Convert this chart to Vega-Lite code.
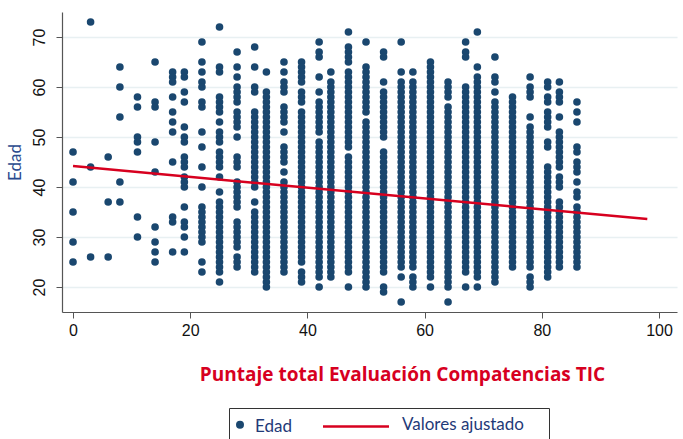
{
"$schema": "https://vega.github.io/schema/vega-lite/v6.json",
"width": 615, "height": 300,
"autosize": {"type": "none"},
"padding": {"left": 62, "top": 12, "right": 6, "bottom": 127},
"background": "white",
"config": {"view": {"stroke": null},
 "legend": {"orient": "none", "legendX": 167, "legendY": 396, "direction": "horizontal",
  "titleOrient": "right", "titleFontSize": 1, "titlePadding": 18,
  "strokeColor": "#333", "fillColor": "white", "padding": 7, "columnPadding": 26,
  "labelFont": "Lato", "labelFontSize": 17, "labelColor": "#1f3a78", "labelBaseline": "alphabetic",
  "symbolSize": 64}},
"datasets": {
"fit": [{"p":0,"edad":44.2},{"p":98,"edad":33.6}],
"pts": [
{"p":0,"edad":47},{"p":0,"edad":41},{"p":0,"edad":35},{"p":0,"edad":29},{"p":0,"edad":25},
{"p":3,"edad":73},{"p":3,"edad":44},{"p":3,"edad":26},
{"p":6,"edad":46},{"p":6,"edad":37},{"p":6,"edad":26},
{"p":8,"edad":64},{"p":8,"edad":60},{"p":8,"edad":54},{"p":8,"edad":41},{"p":8,"edad":37},
{"p":11,"edad":58},{"p":11,"edad":56},{"p":11,"edad":50},{"p":11,"edad":49},{"p":11,"edad":47},{"p":11,"edad":34},{"p":11,"edad":30},
{"p":14,"edad":65},{"p":14,"edad":57},{"p":14,"edad":56},{"p":14,"edad":49},{"p":14,"edad":43},{"p":14,"edad":32},{"p":14,"edad":29},{"p":14,"edad":27},{"p":14,"edad":25},
{"p":17,"edad":63},{"p":17,"edad":62},{"p":17,"edad":61},{"p":17,"edad":58},{"p":17,"edad":55},{"p":17,"edad":53},{"p":17,"edad":51},{"p":17,"edad":45},{"p":17,"edad":34},{"p":17,"edad":33},{"p":17,"edad":27},
{"p":19,"edad":63},{"p":19,"edad":62},{"p":19,"edad":59},{"p":19,"edad":57},{"p":19,"edad":52},{"p":19,"edad":50},{"p":19,"edad":49},{"p":19,"edad":46},{"p":19,"edad":45},{"p":19,"edad":44},{"p":19,"edad":42},{"p":19,"edad":41},{"p":19,"edad":40},{"p":19,"edad":36},{"p":19,"edad":33},{"p":19,"edad":32},{"p":19,"edad":30},{"p":19,"edad":27},
{"p":22,"edad":69},{"p":22,"edad":65},{"p":22,"edad":63},{"p":22,"edad":61},{"p":22,"edad":60},{"p":22,"edad":57},{"p":22,"edad":56},{"p":22,"edad":51},{"p":22,"edad":48},{"p":22,"edad":44},{"p":22,"edad":40},{"p":22,"edad":36},{"p":22,"edad":35},{"p":22,"edad":34},{"p":22,"edad":33},{"p":22,"edad":32},{"p":22,"edad":31},{"p":22,"edad":30},{"p":22,"edad":29},{"p":22,"edad":25},{"p":22,"edad":23},
{"p":25,"edad":72},{"p":25,"edad":64},{"p":25,"edad":63},{"p":25,"edad":58},{"p":25,"edad":57},{"p":25,"edad":56},{"p":25,"edad":55},{"p":25,"edad":53},{"p":25,"edad":51},{"p":25,"edad":50},{"p":25,"edad":49},{"p":25,"edad":47},{"p":25,"edad":46},{"p":25,"edad":45},{"p":25,"edad":44},{"p":25,"edad":42},{"p":25,"edad":39},{"p":25,"edad":37},{"p":25,"edad":36},{"p":25,"edad":35},{"p":25,"edad":34},{"p":25,"edad":33},{"p":25,"edad":32},{"p":25,"edad":31},{"p":25,"edad":30},{"p":25,"edad":29},{"p":25,"edad":28},{"p":25,"edad":27},{"p":25,"edad":26},{"p":25,"edad":25},{"p":25,"edad":24},{"p":25,"edad":23},{"p":25,"edad":21},
{"p":28,"edad":67},{"p":28,"edad":64},{"p":28,"edad":62},{"p":28,"edad":60},{"p":28,"edad":59},{"p":28,"edad":58},{"p":28,"edad":57},{"p":28,"edad":55},{"p":28,"edad":54},{"p":28,"edad":53},{"p":28,"edad":52},{"p":28,"edad":50},{"p":28,"edad":46},{"p":28,"edad":45},{"p":28,"edad":44},{"p":28,"edad":41},{"p":28,"edad":40},{"p":28,"edad":39},{"p":28,"edad":38},{"p":28,"edad":37},{"p":28,"edad":36},{"p":28,"edad":33},{"p":28,"edad":32},{"p":28,"edad":31},{"p":28,"edad":30},{"p":28,"edad":29},{"p":28,"edad":28},{"p":28,"edad":26},{"p":28,"edad":25},{"p":28,"edad":24},
{"p":31,"edad":68},{"p":31,"edad":64},{"p":31,"edad":60},{"p":31,"edad":59},{"p":31,"edad":55},{"p":31,"edad":54},{"p":31,"edad":53},{"p":31,"edad":52},{"p":31,"edad":51},{"p":31,"edad":50},{"p":31,"edad":49},{"p":31,"edad":48},{"p":31,"edad":47},{"p":31,"edad":46},{"p":31,"edad":45},{"p":31,"edad":44},{"p":31,"edad":43},{"p":31,"edad":42},{"p":31,"edad":41},{"p":31,"edad":40},{"p":31,"edad":37},{"p":31,"edad":35},{"p":31,"edad":34},{"p":31,"edad":33},{"p":31,"edad":32},{"p":31,"edad":31},{"p":31,"edad":30},{"p":31,"edad":29},{"p":31,"edad":28},{"p":31,"edad":27},{"p":31,"edad":26},{"p":31,"edad":25},{"p":31,"edad":24},{"p":31,"edad":23},
{"p":33,"edad":63},{"p":33,"edad":59},{"p":33,"edad":58},{"p":33,"edad":57},{"p":33,"edad":56},{"p":33,"edad":55},{"p":33,"edad":54},{"p":33,"edad":53},{"p":33,"edad":52},{"p":33,"edad":51},{"p":33,"edad":50},{"p":33,"edad":49},{"p":33,"edad":48},{"p":33,"edad":47},{"p":33,"edad":46},{"p":33,"edad":45},{"p":33,"edad":44},{"p":33,"edad":43},{"p":33,"edad":42},{"p":33,"edad":41},{"p":33,"edad":40},{"p":33,"edad":39},{"p":33,"edad":38},{"p":33,"edad":37},{"p":33,"edad":36},{"p":33,"edad":35},{"p":33,"edad":34},{"p":33,"edad":33},{"p":33,"edad":32},{"p":33,"edad":31},{"p":33,"edad":30},{"p":33,"edad":29},{"p":33,"edad":28},{"p":33,"edad":27},{"p":33,"edad":26},{"p":33,"edad":25},{"p":33,"edad":24},{"p":33,"edad":23},{"p":33,"edad":22},{"p":33,"edad":21},{"p":33,"edad":20},
{"p":36,"edad":65},{"p":36,"edad":63},{"p":36,"edad":61},{"p":36,"edad":60},{"p":36,"edad":59},{"p":36,"edad":56},{"p":36,"edad":55},{"p":36,"edad":54},{"p":36,"edad":53},{"p":36,"edad":51},{"p":36,"edad":48},{"p":36,"edad":47},{"p":36,"edad":46},{"p":36,"edad":45},{"p":36,"edad":43},{"p":36,"edad":41},{"p":36,"edad":40},{"p":36,"edad":39},{"p":36,"edad":38},{"p":36,"edad":37},{"p":36,"edad":36},{"p":36,"edad":35},{"p":36,"edad":34},{"p":36,"edad":33},{"p":36,"edad":32},{"p":36,"edad":31},{"p":36,"edad":30},{"p":36,"edad":29},{"p":36,"edad":28},{"p":36,"edad":27},{"p":36,"edad":26},{"p":36,"edad":25},{"p":36,"edad":24},{"p":36,"edad":23},
{"p":39,"edad":65},{"p":39,"edad":64},{"p":39,"edad":63},{"p":39,"edad":62},{"p":39,"edad":61},{"p":39,"edad":59},{"p":39,"edad":58},{"p":39,"edad":57},{"p":39,"edad":55},{"p":39,"edad":54},{"p":39,"edad":53},{"p":39,"edad":52},{"p":39,"edad":51},{"p":39,"edad":50},{"p":39,"edad":49},{"p":39,"edad":48},{"p":39,"edad":47},{"p":39,"edad":46},{"p":39,"edad":45},{"p":39,"edad":44},{"p":39,"edad":43},{"p":39,"edad":42},{"p":39,"edad":41},{"p":39,"edad":40},{"p":39,"edad":39},{"p":39,"edad":38},{"p":39,"edad":37},{"p":39,"edad":36},{"p":39,"edad":35},{"p":39,"edad":34},{"p":39,"edad":33},{"p":39,"edad":32},{"p":39,"edad":31},{"p":39,"edad":30},{"p":39,"edad":29},{"p":39,"edad":28},{"p":39,"edad":27},{"p":39,"edad":26},{"p":39,"edad":25},{"p":39,"edad":23},{"p":39,"edad":22},{"p":39,"edad":21},
{"p":42,"edad":69},{"p":42,"edad":67},{"p":42,"edad":66},{"p":42,"edad":62},{"p":42,"edad":59},{"p":42,"edad":57},{"p":42,"edad":56},{"p":42,"edad":55},{"p":42,"edad":54},{"p":42,"edad":53},{"p":42,"edad":52},{"p":42,"edad":51},{"p":42,"edad":49},{"p":42,"edad":48},{"p":42,"edad":47},{"p":42,"edad":46},{"p":42,"edad":45},{"p":42,"edad":44},{"p":42,"edad":43},{"p":42,"edad":42},{"p":42,"edad":41},{"p":42,"edad":40},{"p":42,"edad":39},{"p":42,"edad":38},{"p":42,"edad":37},{"p":42,"edad":36},{"p":42,"edad":35},{"p":42,"edad":34},{"p":42,"edad":33},{"p":42,"edad":32},{"p":42,"edad":31},{"p":42,"edad":30},{"p":42,"edad":29},{"p":42,"edad":28},{"p":42,"edad":27},{"p":42,"edad":26},{"p":42,"edad":25},{"p":42,"edad":24},{"p":42,"edad":23},{"p":42,"edad":22},{"p":42,"edad":20},
{"p":44,"edad":63},{"p":44,"edad":61},{"p":44,"edad":60},{"p":44,"edad":59},{"p":44,"edad":58},{"p":44,"edad":57},{"p":44,"edad":56},{"p":44,"edad":55},{"p":44,"edad":54},{"p":44,"edad":53},{"p":44,"edad":52},{"p":44,"edad":51},{"p":44,"edad":50},{"p":44,"edad":49},{"p":44,"edad":48},{"p":44,"edad":47},{"p":44,"edad":46},{"p":44,"edad":45},{"p":44,"edad":44},{"p":44,"edad":43},{"p":44,"edad":42},{"p":44,"edad":41},{"p":44,"edad":40},{"p":44,"edad":39},{"p":44,"edad":38},{"p":44,"edad":37},{"p":44,"edad":36},{"p":44,"edad":35},{"p":44,"edad":34},{"p":44,"edad":33},{"p":44,"edad":32},{"p":44,"edad":31},{"p":44,"edad":30},{"p":44,"edad":29},{"p":44,"edad":28},{"p":44,"edad":27},{"p":44,"edad":26},{"p":44,"edad":25},{"p":44,"edad":24},{"p":44,"edad":23},{"p":44,"edad":22},
{"p":47,"edad":71},{"p":47,"edad":68},{"p":47,"edad":67},{"p":47,"edad":66},{"p":47,"edad":65},{"p":47,"edad":63},{"p":47,"edad":62},{"p":47,"edad":61},{"p":47,"edad":60},{"p":47,"edad":59},{"p":47,"edad":58},{"p":47,"edad":57},{"p":47,"edad":56},{"p":47,"edad":55},{"p":47,"edad":54},{"p":47,"edad":53},{"p":47,"edad":52},{"p":47,"edad":51},{"p":47,"edad":50},{"p":47,"edad":49},{"p":47,"edad":48},{"p":47,"edad":46},{"p":47,"edad":45},{"p":47,"edad":44},{"p":47,"edad":43},{"p":47,"edad":42},{"p":47,"edad":41},{"p":47,"edad":40},{"p":47,"edad":39},{"p":47,"edad":38},{"p":47,"edad":37},{"p":47,"edad":36},{"p":47,"edad":35},{"p":47,"edad":34},{"p":47,"edad":33},{"p":47,"edad":32},{"p":47,"edad":31},{"p":47,"edad":30},{"p":47,"edad":29},{"p":47,"edad":28},{"p":47,"edad":27},{"p":47,"edad":26},{"p":47,"edad":25},{"p":47,"edad":24},{"p":47,"edad":23},{"p":47,"edad":20},
{"p":50,"edad":69},{"p":50,"edad":64},{"p":50,"edad":63},{"p":50,"edad":62},{"p":50,"edad":61},{"p":50,"edad":60},{"p":50,"edad":59},{"p":50,"edad":58},{"p":50,"edad":57},{"p":50,"edad":56},{"p":50,"edad":55},{"p":50,"edad":53},{"p":50,"edad":52},{"p":50,"edad":51},{"p":50,"edad":50},{"p":50,"edad":49},{"p":50,"edad":48},{"p":50,"edad":47},{"p":50,"edad":46},{"p":50,"edad":45},{"p":50,"edad":44},{"p":50,"edad":43},{"p":50,"edad":42},{"p":50,"edad":41},{"p":50,"edad":40},{"p":50,"edad":39},{"p":50,"edad":38},{"p":50,"edad":37},{"p":50,"edad":36},{"p":50,"edad":35},{"p":50,"edad":34},{"p":50,"edad":33},{"p":50,"edad":32},{"p":50,"edad":31},{"p":50,"edad":30},{"p":50,"edad":29},{"p":50,"edad":28},{"p":50,"edad":27},{"p":50,"edad":26},{"p":50,"edad":25},{"p":50,"edad":24},{"p":50,"edad":23},{"p":50,"edad":22},{"p":50,"edad":21},{"p":50,"edad":20},
{"p":53,"edad":67},{"p":53,"edad":66},{"p":53,"edad":61},{"p":53,"edad":59},{"p":53,"edad":58},{"p":53,"edad":57},{"p":53,"edad":56},{"p":53,"edad":55},{"p":53,"edad":54},{"p":53,"edad":53},{"p":53,"edad":52},{"p":53,"edad":51},{"p":53,"edad":50},{"p":53,"edad":47},{"p":53,"edad":46},{"p":53,"edad":45},{"p":53,"edad":44},{"p":53,"edad":43},{"p":53,"edad":42},{"p":53,"edad":41},{"p":53,"edad":40},{"p":53,"edad":39},{"p":53,"edad":38},{"p":53,"edad":37},{"p":53,"edad":36},{"p":53,"edad":35},{"p":53,"edad":34},{"p":53,"edad":33},{"p":53,"edad":32},{"p":53,"edad":31},{"p":53,"edad":30},{"p":53,"edad":29},{"p":53,"edad":28},{"p":53,"edad":27},{"p":53,"edad":26},{"p":53,"edad":25},{"p":53,"edad":24},{"p":53,"edad":23},{"p":53,"edad":20},{"p":53,"edad":19},
{"p":56,"edad":69},{"p":56,"edad":63},{"p":56,"edad":61},{"p":56,"edad":60},{"p":56,"edad":59},{"p":56,"edad":58},{"p":56,"edad":57},{"p":56,"edad":56},{"p":56,"edad":55},{"p":56,"edad":54},{"p":56,"edad":53},{"p":56,"edad":52},{"p":56,"edad":51},{"p":56,"edad":50},{"p":56,"edad":49},{"p":56,"edad":48},{"p":56,"edad":47},{"p":56,"edad":46},{"p":56,"edad":45},{"p":56,"edad":44},{"p":56,"edad":43},{"p":56,"edad":42},{"p":56,"edad":41},{"p":56,"edad":40},{"p":56,"edad":39},{"p":56,"edad":38},{"p":56,"edad":37},{"p":56,"edad":36},{"p":56,"edad":35},{"p":56,"edad":34},{"p":56,"edad":33},{"p":56,"edad":32},{"p":56,"edad":31},{"p":56,"edad":30},{"p":56,"edad":29},{"p":56,"edad":28},{"p":56,"edad":27},{"p":56,"edad":26},{"p":56,"edad":25},{"p":56,"edad":24},{"p":56,"edad":22},{"p":56,"edad":17},
{"p":58,"edad":63},{"p":58,"edad":61},{"p":58,"edad":60},{"p":58,"edad":59},{"p":58,"edad":58},{"p":58,"edad":57},{"p":58,"edad":56},{"p":58,"edad":55},{"p":58,"edad":54},{"p":58,"edad":53},{"p":58,"edad":52},{"p":58,"edad":51},{"p":58,"edad":50},{"p":58,"edad":49},{"p":58,"edad":48},{"p":58,"edad":47},{"p":58,"edad":46},{"p":58,"edad":45},{"p":58,"edad":44},{"p":58,"edad":43},{"p":58,"edad":42},{"p":58,"edad":41},{"p":58,"edad":40},{"p":58,"edad":39},{"p":58,"edad":38},{"p":58,"edad":37},{"p":58,"edad":36},{"p":58,"edad":35},{"p":58,"edad":34},{"p":58,"edad":33},{"p":58,"edad":32},{"p":58,"edad":31},{"p":58,"edad":30},{"p":58,"edad":29},{"p":58,"edad":28},{"p":58,"edad":27},{"p":58,"edad":26},{"p":58,"edad":25},{"p":58,"edad":24},{"p":58,"edad":22},{"p":58,"edad":21},{"p":58,"edad":20},
{"p":61,"edad":65},{"p":61,"edad":64},{"p":61,"edad":63},{"p":61,"edad":62},{"p":61,"edad":61},{"p":61,"edad":60},{"p":61,"edad":59},{"p":61,"edad":58},{"p":61,"edad":57},{"p":61,"edad":56},{"p":61,"edad":55},{"p":61,"edad":54},{"p":61,"edad":53},{"p":61,"edad":52},{"p":61,"edad":51},{"p":61,"edad":50},{"p":61,"edad":49},{"p":61,"edad":48},{"p":61,"edad":47},{"p":61,"edad":46},{"p":61,"edad":45},{"p":61,"edad":44},{"p":61,"edad":43},{"p":61,"edad":42},{"p":61,"edad":41},{"p":61,"edad":40},{"p":61,"edad":39},{"p":61,"edad":38},{"p":61,"edad":37},{"p":61,"edad":36},{"p":61,"edad":35},{"p":61,"edad":34},{"p":61,"edad":33},{"p":61,"edad":32},{"p":61,"edad":31},{"p":61,"edad":30},{"p":61,"edad":29},{"p":61,"edad":28},{"p":61,"edad":27},{"p":61,"edad":26},{"p":61,"edad":25},{"p":61,"edad":24},{"p":61,"edad":23},{"p":61,"edad":22},{"p":61,"edad":20},
{"p":64,"edad":61},{"p":64,"edad":60},{"p":64,"edad":59},{"p":64,"edad":58},{"p":64,"edad":56},{"p":64,"edad":55},{"p":64,"edad":54},{"p":64,"edad":53},{"p":64,"edad":52},{"p":64,"edad":51},{"p":64,"edad":50},{"p":64,"edad":49},{"p":64,"edad":48},{"p":64,"edad":47},{"p":64,"edad":46},{"p":64,"edad":45},{"p":64,"edad":44},{"p":64,"edad":43},{"p":64,"edad":42},{"p":64,"edad":41},{"p":64,"edad":40},{"p":64,"edad":39},{"p":64,"edad":38},{"p":64,"edad":37},{"p":64,"edad":36},{"p":64,"edad":35},{"p":64,"edad":34},{"p":64,"edad":33},{"p":64,"edad":32},{"p":64,"edad":31},{"p":64,"edad":30},{"p":64,"edad":29},{"p":64,"edad":28},{"p":64,"edad":27},{"p":64,"edad":26},{"p":64,"edad":25},{"p":64,"edad":24},{"p":64,"edad":23},{"p":64,"edad":22},{"p":64,"edad":21},{"p":64,"edad":20},{"p":64,"edad":17},
{"p":67,"edad":69},{"p":67,"edad":67},{"p":67,"edad":66},{"p":67,"edad":60},{"p":67,"edad":59},{"p":67,"edad":58},{"p":67,"edad":57},{"p":67,"edad":56},{"p":67,"edad":55},{"p":67,"edad":54},{"p":67,"edad":53},{"p":67,"edad":52},{"p":67,"edad":51},{"p":67,"edad":50},{"p":67,"edad":49},{"p":67,"edad":48},{"p":67,"edad":47},{"p":67,"edad":46},{"p":67,"edad":45},{"p":67,"edad":44},{"p":67,"edad":43},{"p":67,"edad":42},{"p":67,"edad":41},{"p":67,"edad":40},{"p":67,"edad":39},{"p":67,"edad":38},{"p":67,"edad":37},{"p":67,"edad":36},{"p":67,"edad":35},{"p":67,"edad":34},{"p":67,"edad":33},{"p":67,"edad":32},{"p":67,"edad":31},{"p":67,"edad":30},{"p":67,"edad":29},{"p":67,"edad":28},{"p":67,"edad":27},{"p":67,"edad":26},{"p":67,"edad":25},{"p":67,"edad":24},{"p":67,"edad":23},{"p":67,"edad":20},
{"p":69,"edad":71},{"p":69,"edad":64},{"p":69,"edad":62},{"p":69,"edad":61},{"p":69,"edad":60},{"p":69,"edad":59},{"p":69,"edad":58},{"p":69,"edad":57},{"p":69,"edad":56},{"p":69,"edad":55},{"p":69,"edad":54},{"p":69,"edad":53},{"p":69,"edad":52},{"p":69,"edad":51},{"p":69,"edad":50},{"p":69,"edad":49},{"p":69,"edad":48},{"p":69,"edad":47},{"p":69,"edad":46},{"p":69,"edad":45},{"p":69,"edad":44},{"p":69,"edad":43},{"p":69,"edad":42},{"p":69,"edad":41},{"p":69,"edad":40},{"p":69,"edad":39},{"p":69,"edad":38},{"p":69,"edad":37},{"p":69,"edad":36},{"p":69,"edad":35},{"p":69,"edad":34},{"p":69,"edad":33},{"p":69,"edad":32},{"p":69,"edad":31},{"p":69,"edad":30},{"p":69,"edad":29},{"p":69,"edad":28},{"p":69,"edad":27},{"p":69,"edad":26},{"p":69,"edad":25},{"p":69,"edad":24},{"p":69,"edad":23},{"p":69,"edad":22},{"p":69,"edad":20},
{"p":72,"edad":66},{"p":72,"edad":62},{"p":72,"edad":61},{"p":72,"edad":59},{"p":72,"edad":57},{"p":72,"edad":56},{"p":72,"edad":55},{"p":72,"edad":54},{"p":72,"edad":53},{"p":72,"edad":52},{"p":72,"edad":51},{"p":72,"edad":50},{"p":72,"edad":49},{"p":72,"edad":48},{"p":72,"edad":47},{"p":72,"edad":46},{"p":72,"edad":45},{"p":72,"edad":44},{"p":72,"edad":43},{"p":72,"edad":42},{"p":72,"edad":41},{"p":72,"edad":40},{"p":72,"edad":39},{"p":72,"edad":38},{"p":72,"edad":37},{"p":72,"edad":36},{"p":72,"edad":35},{"p":72,"edad":34},{"p":72,"edad":33},{"p":72,"edad":32},{"p":72,"edad":31},{"p":72,"edad":30},{"p":72,"edad":29},{"p":72,"edad":28},{"p":72,"edad":27},{"p":72,"edad":26},{"p":72,"edad":25},{"p":72,"edad":24},{"p":72,"edad":23},{"p":72,"edad":22},{"p":72,"edad":21},
{"p":75,"edad":58},{"p":75,"edad":57},{"p":75,"edad":56},{"p":75,"edad":55},{"p":75,"edad":54},{"p":75,"edad":53},{"p":75,"edad":52},{"p":75,"edad":51},{"p":75,"edad":50},{"p":75,"edad":49},{"p":75,"edad":48},{"p":75,"edad":47},{"p":75,"edad":46},{"p":75,"edad":45},{"p":75,"edad":44},{"p":75,"edad":43},{"p":75,"edad":42},{"p":75,"edad":41},{"p":75,"edad":40},{"p":75,"edad":39},{"p":75,"edad":38},{"p":75,"edad":37},{"p":75,"edad":36},{"p":75,"edad":35},{"p":75,"edad":34},{"p":75,"edad":33},{"p":75,"edad":32},{"p":75,"edad":31},{"p":75,"edad":30},{"p":75,"edad":29},{"p":75,"edad":28},{"p":75,"edad":27},{"p":75,"edad":26},{"p":75,"edad":25},{"p":75,"edad":24},
{"p":78,"edad":62},{"p":78,"edad":60},{"p":78,"edad":59},{"p":78,"edad":58},{"p":78,"edad":54},{"p":78,"edad":52},{"p":78,"edad":51},{"p":78,"edad":50},{"p":78,"edad":49},{"p":78,"edad":48},{"p":78,"edad":47},{"p":78,"edad":46},{"p":78,"edad":45},{"p":78,"edad":44},{"p":78,"edad":43},{"p":78,"edad":42},{"p":78,"edad":41},{"p":78,"edad":40},{"p":78,"edad":39},{"p":78,"edad":38},{"p":78,"edad":37},{"p":78,"edad":36},{"p":78,"edad":35},{"p":78,"edad":34},{"p":78,"edad":33},{"p":78,"edad":32},{"p":78,"edad":31},{"p":78,"edad":30},{"p":78,"edad":29},{"p":78,"edad":28},{"p":78,"edad":27},{"p":78,"edad":26},{"p":78,"edad":25},{"p":78,"edad":24},{"p":78,"edad":22},{"p":78,"edad":21},{"p":78,"edad":20},
{"p":81,"edad":61},{"p":81,"edad":60},{"p":81,"edad":58},{"p":81,"edad":57},{"p":81,"edad":55},{"p":81,"edad":54},{"p":81,"edad":53},{"p":81,"edad":52},{"p":81,"edad":49},{"p":81,"edad":48},{"p":81,"edad":44},{"p":81,"edad":43},{"p":81,"edad":42},{"p":81,"edad":41},{"p":81,"edad":40},{"p":81,"edad":39},{"p":81,"edad":38},{"p":81,"edad":37},{"p":81,"edad":36},{"p":81,"edad":35},{"p":81,"edad":34},{"p":81,"edad":33},{"p":81,"edad":32},{"p":81,"edad":31},{"p":81,"edad":30},{"p":81,"edad":29},{"p":81,"edad":28},{"p":81,"edad":27},{"p":81,"edad":26},{"p":81,"edad":25},{"p":81,"edad":24},{"p":81,"edad":23},{"p":81,"edad":22},
{"p":83,"edad":61},{"p":83,"edad":59},{"p":83,"edad":58},{"p":83,"edad":57},{"p":83,"edad":54},{"p":83,"edad":51},{"p":83,"edad":50},{"p":83,"edad":49},{"p":83,"edad":48},{"p":83,"edad":47},{"p":83,"edad":46},{"p":83,"edad":45},{"p":83,"edad":44},{"p":83,"edad":42},{"p":83,"edad":41},{"p":83,"edad":40},{"p":83,"edad":37},{"p":83,"edad":36},{"p":83,"edad":35},{"p":83,"edad":34},{"p":83,"edad":33},{"p":83,"edad":32},{"p":83,"edad":31},{"p":83,"edad":30},{"p":83,"edad":29},{"p":83,"edad":28},{"p":83,"edad":27},{"p":83,"edad":26},{"p":83,"edad":25},{"p":83,"edad":24},
{"p":86,"edad":57},{"p":86,"edad":55},{"p":86,"edad":53},{"p":86,"edad":48},{"p":86,"edad":47},{"p":86,"edad":45},{"p":86,"edad":44},{"p":86,"edad":43},{"p":86,"edad":41},{"p":86,"edad":39},{"p":86,"edad":38},{"p":86,"edad":36},{"p":86,"edad":35},{"p":86,"edad":34},{"p":86,"edad":33},{"p":86,"edad":32},{"p":86,"edad":31},{"p":86,"edad":30},{"p":86,"edad":29},{"p":86,"edad":28},{"p":86,"edad":27},{"p":86,"edad":26},{"p":86,"edad":25},{"p":86,"edad":24}
]
},
"encoding": {
"color": {"type": "nominal",
 "scale": {"domain": ["Edad", "Valores ajustado"], "range": ["#1a476f", "#d7001f"]},
 "legend": {"title": "\u00a0",
  "encode": {
   "symbols": {"update": {
     "shape": {"signal": "datum.value === 'Edad' ? 'circle' : 'M-8.25,0H8.25'"},
     "fill": {"signal": "datum.value === 'Edad' ? '#1a476f' : 'transparent'"},
     "stroke": {"signal": "datum.value === 'Edad' ? 'transparent' : '#d7001f'"},
     "strokeWidth": {"signal": "datum.value === 'Edad' ? 0 : 2.5"},
     "x": {"signal": "datum.value === 'Edad' ? 4 : 33"},
     "y": {"value": 9.5}}},
   "labels": {"update": {
     "x": {"signal": "datum.value === 'Edad' ? 19 : 79"},
     "y": {"signal": "datum.value === 'Edad' ? 16.3 : 13"}}}
  }}}
},
"layer": [
{
"data": {"name": "pts"},
"mark": {"type": "circle", "size": 58, "opacity": 1},
"encoding": {
"x": {"field": "p", "type": "quantitative",
 "scale": {"domain": [-1.88, 103.07], "nice": false, "zero": false},
 "axis": {"values": [0, 20, 40, 60, 80, 100], "grid": false, "tickSize": 6, "tickColor": "#555", "domainColor": "#555", "domainWidth": 1.2,
  "labelFont": "Liberation Sans", "labelFontSize": 16, "labelColor": "#111", "labelPadding": 4,
  "title": "Puntaje total Evaluación Compatencias TIC", "titleFont": "Open Sans", "titleFontWeight": "bold", "titleFontSize": 19, "titleColor": "#d7001f",
  "titleX": 340, "titleY": 68, "titleAlign": "center", "titleBaseline": "alphabetic", "titleAnchor": null}},
"y": {"field": "edad", "type": "quantitative",
 "scale": {"domain": [15, 75], "nice": false, "zero": false},
 "axis": {"values": [20, 30, 40, 50, 60, 70], "grid": true, "gridColor": "#e8f0f2", "gridWidth": 1.3, "tickSize": 6, "tickColor": "#555", "domainColor": "#555", "domainWidth": 1.2,
  "labelFont": "Liberation Sans", "labelFontSize": 16, "labelColor": "#111", "labelAngle": -90, "labelPadding": 9,
  "title": "Edad", "titleFont": "Lato", "titleFontWeight": "normal", "titleFontSize": 17, "titleColor": "#2a4a8e", "titlePadding": 7}},
"color": {"datum": "Edad"}
}
},
{
"data": {"name": "fit"},
"mark": {"type": "line", "strokeWidth": 2.5},
"encoding": {
"x": {"field": "p", "type": "quantitative"},
"y": {"field": "edad", "type": "quantitative"},
"color": {"datum": "Valores ajustado"}
}
}
]
}
